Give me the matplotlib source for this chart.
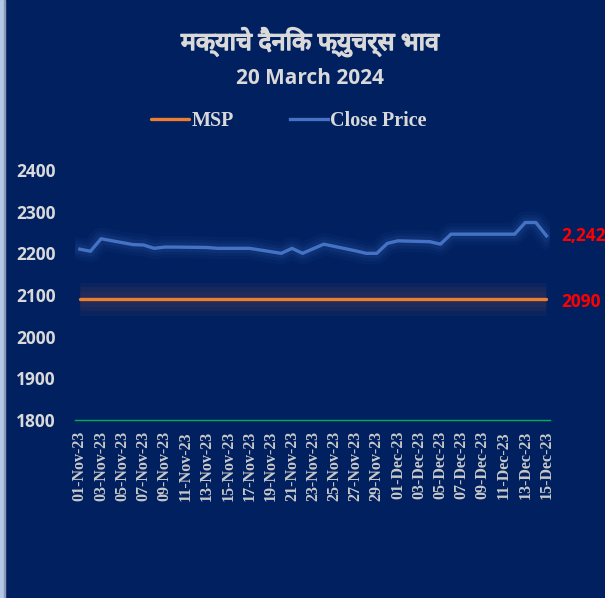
import matplotlib
matplotlib.use("Agg")
import matplotlib.pyplot as plt
import matplotlib.dates as mdates
import matplotlib.patheffects as pe
from matplotlib.patches import Rectangle
import pandas as pd

# Data
dates = ["2023-11-01", "2023-11-02", "2023-11-03", "2023-11-06", "2023-11-07",
         "2023-11-08", "2023-11-09", "2023-11-10", "2023-11-13", "2023-11-14",
         "2023-11-15", "2023-11-16", "2023-11-17", "2023-11-20", "2023-11-21",
         "2023-11-22", "2023-11-23", "2023-11-24", "2023-11-27", "2023-11-28",
         "2023-11-29", "2023-11-30", "2023-12-01", "2023-12-04", "2023-12-05",
         "2023-12-06", "2023-12-07", "2023-12-08", "2023-12-11", "2023-12-12",
         "2023-12-13", "2023-12-14", "2023-12-15"]
close_price = [2210, 2205, 2235, 2221, 2220, 2212, 2215, 2215, 2214, 2212,
               2212, 2212, 2212, 2200, 2212, 2200, 2211, 2222, 2206, 2200,
               2200, 2224, 2230, 2228, 2222, 2246, 2246, 2246, 2246, 2246,
               2274, 2274, 2242]
msp = 2090
last_label = "2,242"
msp_label = "2090"
title_mr = "मक्याचे दैनिक फ्युचर्स भाव"
title_date = "20 March 2024"
y_ticks = [1800, 1900, 2000, 2100, 2200, 2300, 2400]

BG = "#002060"
BLUE = "#4472C4"
ORANGE = "#ED7D31"
TXT = "#d9d9d9"
SANS = "Open Sans"

x = pd.to_datetime(dates)

fig = plt.figure(figsize=(6.05, 5.98), dpi=100, facecolor=BG)
ax = fig.add_axes([75 / 605, 1 - 420 / 598, 475 / 605, 250 / 598])
ax.set_facecolor(BG)

# soft glow under the lines
for lw, a in [(24, 0.07), (17, 0.07), (11, 0.07)]:
    ax.plot([x[0], x[-1]], [msp, msp], color="#b06048", lw=lw, alpha=a,
            solid_capstyle="butt")
for lw, a in [(16, 0.06), (11, 0.08), (7, 0.11)]:
    ax.plot(x, close_price, color=BLUE, lw=lw, alpha=a, solid_joinstyle="round")

ax.plot([x[0], x[-1]], [msp, msp], color=ORANGE, lw=2.4, label="MSP",
        solid_capstyle="round")
ax.plot(x, close_price, color=BLUE, lw=2.4, label="Close Price",
        solid_joinstyle="round")

ax.set_ylim(1800, 2400)
ax.set_xlim(x[0] - pd.Timedelta(hours=11), x[-1] + pd.Timedelta(hours=8))
ax.set_yticks(y_ticks)
ax.set_yticklabels([str(v) for v in y_ticks])

ticks = pd.date_range("2023-11-01", "2023-12-15", freq="2D")
ax.set_xticks(ticks)
ax.xaxis.set_major_formatter(mdates.DateFormatter("%d-%b-%y"))

for s in ["top", "right", "left"]:
    ax.spines[s].set_visible(False)
ax.spines["bottom"].set_color("#00b050")
ax.spines["bottom"].set_linewidth(1.0)
ax.tick_params(axis="both", length=0)
ax.tick_params(axis="y", pad=14, labelcolor=TXT)
ax.tick_params(axis="x", pad=8, labelcolor="#c8c8c8")
for lab in ax.get_yticklabels():
    lab.set_fontfamily(SANS)
    lab.set_fontweight("bold")
    lab.set_fontsize(12.5)
for lab in ax.get_xticklabels():
    lab.set_fontfamily("Liberation Serif")
    lab.set_fontweight("bold")
    lab.set_fontsize(11.5)
    lab.set_rotation(90)

# end labels
ax.annotate(last_label, (x[-1], close_price[-1]), xytext=(11, 0),
            textcoords="offset points", color="red", fontsize=12.5,
            fontweight="bold", family=SANS, va="center", ha="left")
ax.annotate(msp_label, (x[-1], msp), xytext=(11, -2),
            textcoords="offset points", color="red", fontsize=12.5,
            fontweight="bold", family=SANS, va="center", ha="left")

# titles (stroke thickens the Devanagari font, which has no bold face)
fig.text(310 / 605, 1 - 42 / 598, title_mr, ha="center", va="center",
         color=TXT, fontsize=18, fontweight="bold",
         family=["Noto Sans Devanagari", "Lohit Devanagari", "FreeSans",
                 "Mangal", "Nirmala UI", SANS, "DejaVu Sans"],
         path_effects=[pe.withStroke(linewidth=1.1, foreground=TXT)])
fig.text(310 / 605, 1 - 78 / 598, title_date, ha="center", va="center",
         color=TXT, fontsize=15, fontweight="bold", family=SANS)

# legend
handles, labels = ax.get_legend_handles_labels()
fig.legend(handles, labels, loc="center", ncol=2, frameon=False,
           bbox_to_anchor=(289 / 605, 1 - 121 / 598),
           prop={"family": "Liberation Serif", "weight": "bold", "size": 14.5},
           labelcolor=TXT, handlelength=1.9, handletextpad=0.1,
           columnspacing=2.8)

# light strip at the left edge
fig.patches.append(Rectangle((0, 0), 3.5 / 605, 1, transform=fig.transFigure,
                             color="#b4c7e7", zorder=0))
fig.patches.append(Rectangle((3.5 / 605, 0), 1 / 605, 1,
                             transform=fig.transFigure, color="#8a9ab8",
                             zorder=0))

fig.savefig("out.png", dpi=100, facecolor=BG)
